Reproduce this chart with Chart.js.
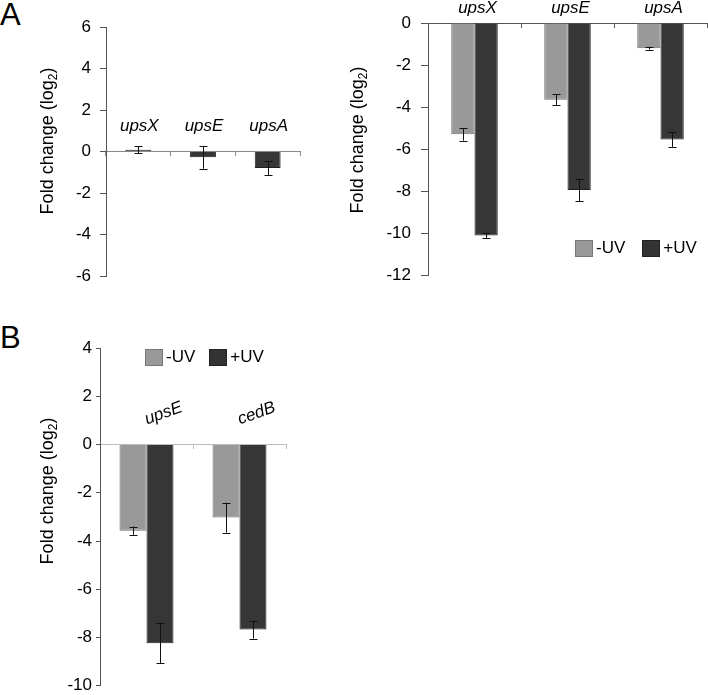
<!DOCTYPE html>
<html><head><meta charset="utf-8">
<script src="https://cdn.jsdelivr.net/npm/chart.js@4.4.1/dist/chart.umd.min.js"></script>
<style>
html,body{margin:0;padding:0;background:#fff;width:708px;height:695px;overflow:hidden;position:relative;font-family:"Liberation Sans",Arial,sans-serif;}
.wrap{position:absolute;}
.panel{position:absolute;font-size:31px;color:#000;line-height:1;}
.leg{position:absolute;font-size:17px;color:#000;display:flex;align-items:center;white-space:nowrap;}
.box{display:inline-block;width:16px;height:15px;margin-right:3px;}
.lite{background:#999;border:1px solid #777;}
.dark{background:#333;border:1px solid #222;}
</style></head><body>
<div class="panel" style="left:0px;top:-1px">A</div>
<div class="panel" style="left:0px;top:322px">B</div>
<div class="wrap" style="left:0;top:0;width:330px;height:300px"><canvas id="cA1"></canvas></div>
<div class="wrap" style="left:330px;top:0;width:378px;height:300px"><canvas id="cA2"></canvas></div>
<div class="wrap" style="left:0;top:320px;width:330px;height:380px"><canvas id="cB"></canvas></div>
<div class="leg" style="left:575px;top:238px"><span class="box lite"></span>-UV<span class="box dark" style="margin-left:17px"></span>+UV</div>
<div class="leg" style="left:145px;top:347px"><span class="box lite"></span>-UV<span class="box dark" style="margin-left:14px"></span>+UV</div>
<script>
// ---------- data ----------
const genesA = ['upsX', 'upsE', 'upsA'];
const a1Values = [0.08, -0.28, -0.8];
const a1Err = [0.17, 0.55, 0.33];
const a2MinusUV = [-5.3, -3.65, -1.2];
const a2MinusUVErr = [0.3, 0.25, 0.07];
const a2PlusUV = [-10.12, -7.95, -5.55];
const a2PlusUVErr = [0.12, 0.53, 0.35];
const genesB = ['upsE', 'cedB'];
const bMinusUV = [-3.57, -3.03];
const bMinusUVErr = [0.17, 0.62];
const bPlusUV = [-8.24, -7.67];
const bPlusUVErr = [0.83, 0.37];
const ticksA1 = [6, 4, 2, 0, -2, -4, -6];
const ticksA2 = [0, -2, -4, -6, -8, -10, -12];
const ticksB = [4, 2, 0, -2, -4, -6, -8, -10];
const seriesNames = ['-UV', '+UV'];
const yTitle = 'Fold change (log';
const yTitleSub = '2';

const FONT = '"Liberation Sans", Arial, sans-serif';
Chart.defaults.font.family = FONT;
Chart.defaults.color = '#000';
Chart.defaults.animation = false;

const LITE = '#999999', LITE_B = '#6e6e6e', DARK = '#363636', DARK_B = '#1e1e1e';

const errorBars = {
  id: 'errorBars',
  afterDatasetsDraw(chart, args, opts) {
    const ctx = chart.ctx, ys = chart.scales.y;
    ctx.save();
    ctx.strokeStyle = opts.color || '#111';
    ctx.lineWidth = 1;
    chart.data.datasets.forEach((ds, di) => {
      const meta = chart.getDatasetMeta(di);
      meta.data.forEach((bar, i) => {
        const v = ds.data[i], e = ds.err[i];
        const x = Math.round(bar.x) + 0.5;
        const y1 = ys.getPixelForValue(v + e), y2 = ys.getPixelForValue(v - e);
        const c = opts.cap || 4;
        ctx.beginPath();
        ctx.moveTo(x, y1); ctx.lineTo(x, y2);
        ctx.moveTo(x - c, Math.round(y1) + 0.5); ctx.lineTo(x + c, Math.round(y1) + 0.5);
        ctx.moveTo(x - c, Math.round(y2) + 0.5); ctx.lineTo(x + c, Math.round(y2) + 0.5);
        ctx.stroke();
      });
    });
    ctx.restore();
  }
};

const catLabels = {
  id: 'catLabels',
  afterDraw(chart, args, opts) {
    const ctx = chart.ctx, xs = chart.scales.x, ys = chart.scales.y;
    const y0 = ys.getPixelForValue(0);
    ctx.save();
    ctx.fillStyle = '#000';
    ctx.font = 'italic 17px ' + FONT;
    ctx.textAlign = 'center';
    ctx.textBaseline = opts.rotate ? 'middle' : 'alphabetic';
    chart.data.labels.forEach((lab, i) => {
      const x = xs.getPixelForValue(i) + (opts.dx || 0);
      const y = y0 + opts.dy;
      ctx.save();
      ctx.translate(x, y);
      if (opts.rotate) ctx.rotate(opts.rotate * Math.PI / 180);
      ctx.fillText(lab, 0, 0);
      ctx.restore();
    });
    ctx.restore();
  }
};

const yTitlePlugin = {
  id: 'yTitle',
  afterDraw(chart, args, opts) {
    const ctx = chart.ctx;
    ctx.save();
    ctx.fillStyle = '#000';
    ctx.translate(opts.x, opts.y);
    ctx.rotate(-Math.PI / 2);
    ctx.textAlign = 'left';
    ctx.textBaseline = 'alphabetic';
    const big = '18px ' + FONT, small = '12px ' + FONT;
    ctx.font = big; const w1 = ctx.measureText(yTitle).width; const w3 = ctx.measureText(')').width;
    ctx.font = small; const w2 = ctx.measureText(yTitleSub).width;
    const x0 = -(w1 + w2 + w3) / 2;
    ctx.font = big; ctx.fillText(yTitle, x0, 0);
    ctx.font = small; ctx.fillText(yTitleSub, x0 + w1, 4);
    ctx.font = big; ctx.fillText(')', x0 + w1 + w2, 0);
    ctx.restore();
  }
};

function makeChart(id, cfg) {
  const tickVals = cfg.ticks;
  return new Chart(document.getElementById(id), {
    type: 'bar',
    data: { labels: cfg.labels, datasets: cfg.datasets },
    options: {
      responsive: true,
      maintainAspectRatio: false,
      layout: { padding: cfg.padding },
      plugins: {
        legend: { display: false },
        tooltip: { enabled: false },
        errorBars: { cap: cfg.cap },
        catLabels: cfg.cat,
        yTitle: cfg.title
      },
      scales: {
        x: {
          position: { y: 0 },
          offset: true,
          ticks: { display: false },
          grid: { display: true, offset: true, drawOnChartArea: false, drawTicks: true, tickLength: cfg.xTick, color: cfg.xColor },
          border: { display: true, color: cfg.xColor, width: 1 }
        },
        y: {
          position: 'left',
          min: Math.min(...tickVals), max: Math.max(...tickVals),
          afterBuildTicks: s => { s.ticks = tickVals.map(v => ({ value: v })); },
          afterFit: s => { s.width = cfg.yWidth; },
          ticks: { font: { size: 17 }, color: '#000', padding: cfg.yPad },
          grid: { display: true, drawOnChartArea: false, drawTicks: true, tickLength: cfg.yTick, color: '#555' },
          border: { display: true, color: '#555', width: 1 }
        }
      }
    },
    plugins: [errorBars, catLabels, yTitlePlugin]
  });
}

makeChart('cA1', {
  labels: genesA,
  datasets: [{ label: seriesNames[1], data: a1Values, err: a1Err, backgroundColor: DARK, borderColor: DARK_B, borderWidth: 1, categoryPercentage: 1, barPercentage: 0.4 }],
  ticks: ticksA1,
  padding: { left: 0, top: 27, right: 30, bottom: 24 },
  yWidth: 106, yPad: 9, yTick: 6, xTick: 4, xColor: '#8a8a8a', cap: 4,
  cat: { dy: -21, dx: 1 },
  title: { x: 53, y: 141 }
});

makeChart('cA2', {
  labels: genesA,
  datasets: [
    { label: seriesNames[0], data: a2MinusUV, err: a2MinusUVErr, backgroundColor: LITE, borderColor: LITE_B, borderWidth: 1, categoryPercentage: 0.5, barPercentage: 1 },
    { label: seriesNames[1], data: a2PlusUV, err: a2PlusUVErr, backgroundColor: DARK, borderColor: DARK_B, borderWidth: 1, categoryPercentage: 0.5, barPercentage: 1 }
  ],
  ticks: ticksA2,
  padding: { left: 0, top: 23, right: 1, bottom: 25 },
  yWidth: 98, yPad: 10, yTick: 7, xTick: 4, xColor: '#555', cap: 4,
  cat: { dy: -10, dx: 3 },
  title: { x: 33, y: 140 }
});

makeChart('cB', {
  labels: genesB,
  datasets: [
    { label: seriesNames[0], data: bMinusUV, err: bMinusUVErr, backgroundColor: LITE, borderColor: LITE_B, borderWidth: 1, categoryPercentage: 0.58, barPercentage: 1 },
    { label: seriesNames[1], data: bPlusUV, err: bPlusUVErr, backgroundColor: DARK, borderColor: DARK_B, borderWidth: 1, categoryPercentage: 0.58, barPercentage: 1 }
  ],
  ticks: ticksB,
  padding: { left: 0, top: 28, right: 44, bottom: 11 },
  yWidth: 100, yPad: 4, yTick: 4, xTick: 4, xColor: '#bdbdbd', cap: 4,
  cat: { dy: -31, dx: 17, rotate: -20 },
  title: { x: 53, y: 171 }
});
</script>
</body></html>
